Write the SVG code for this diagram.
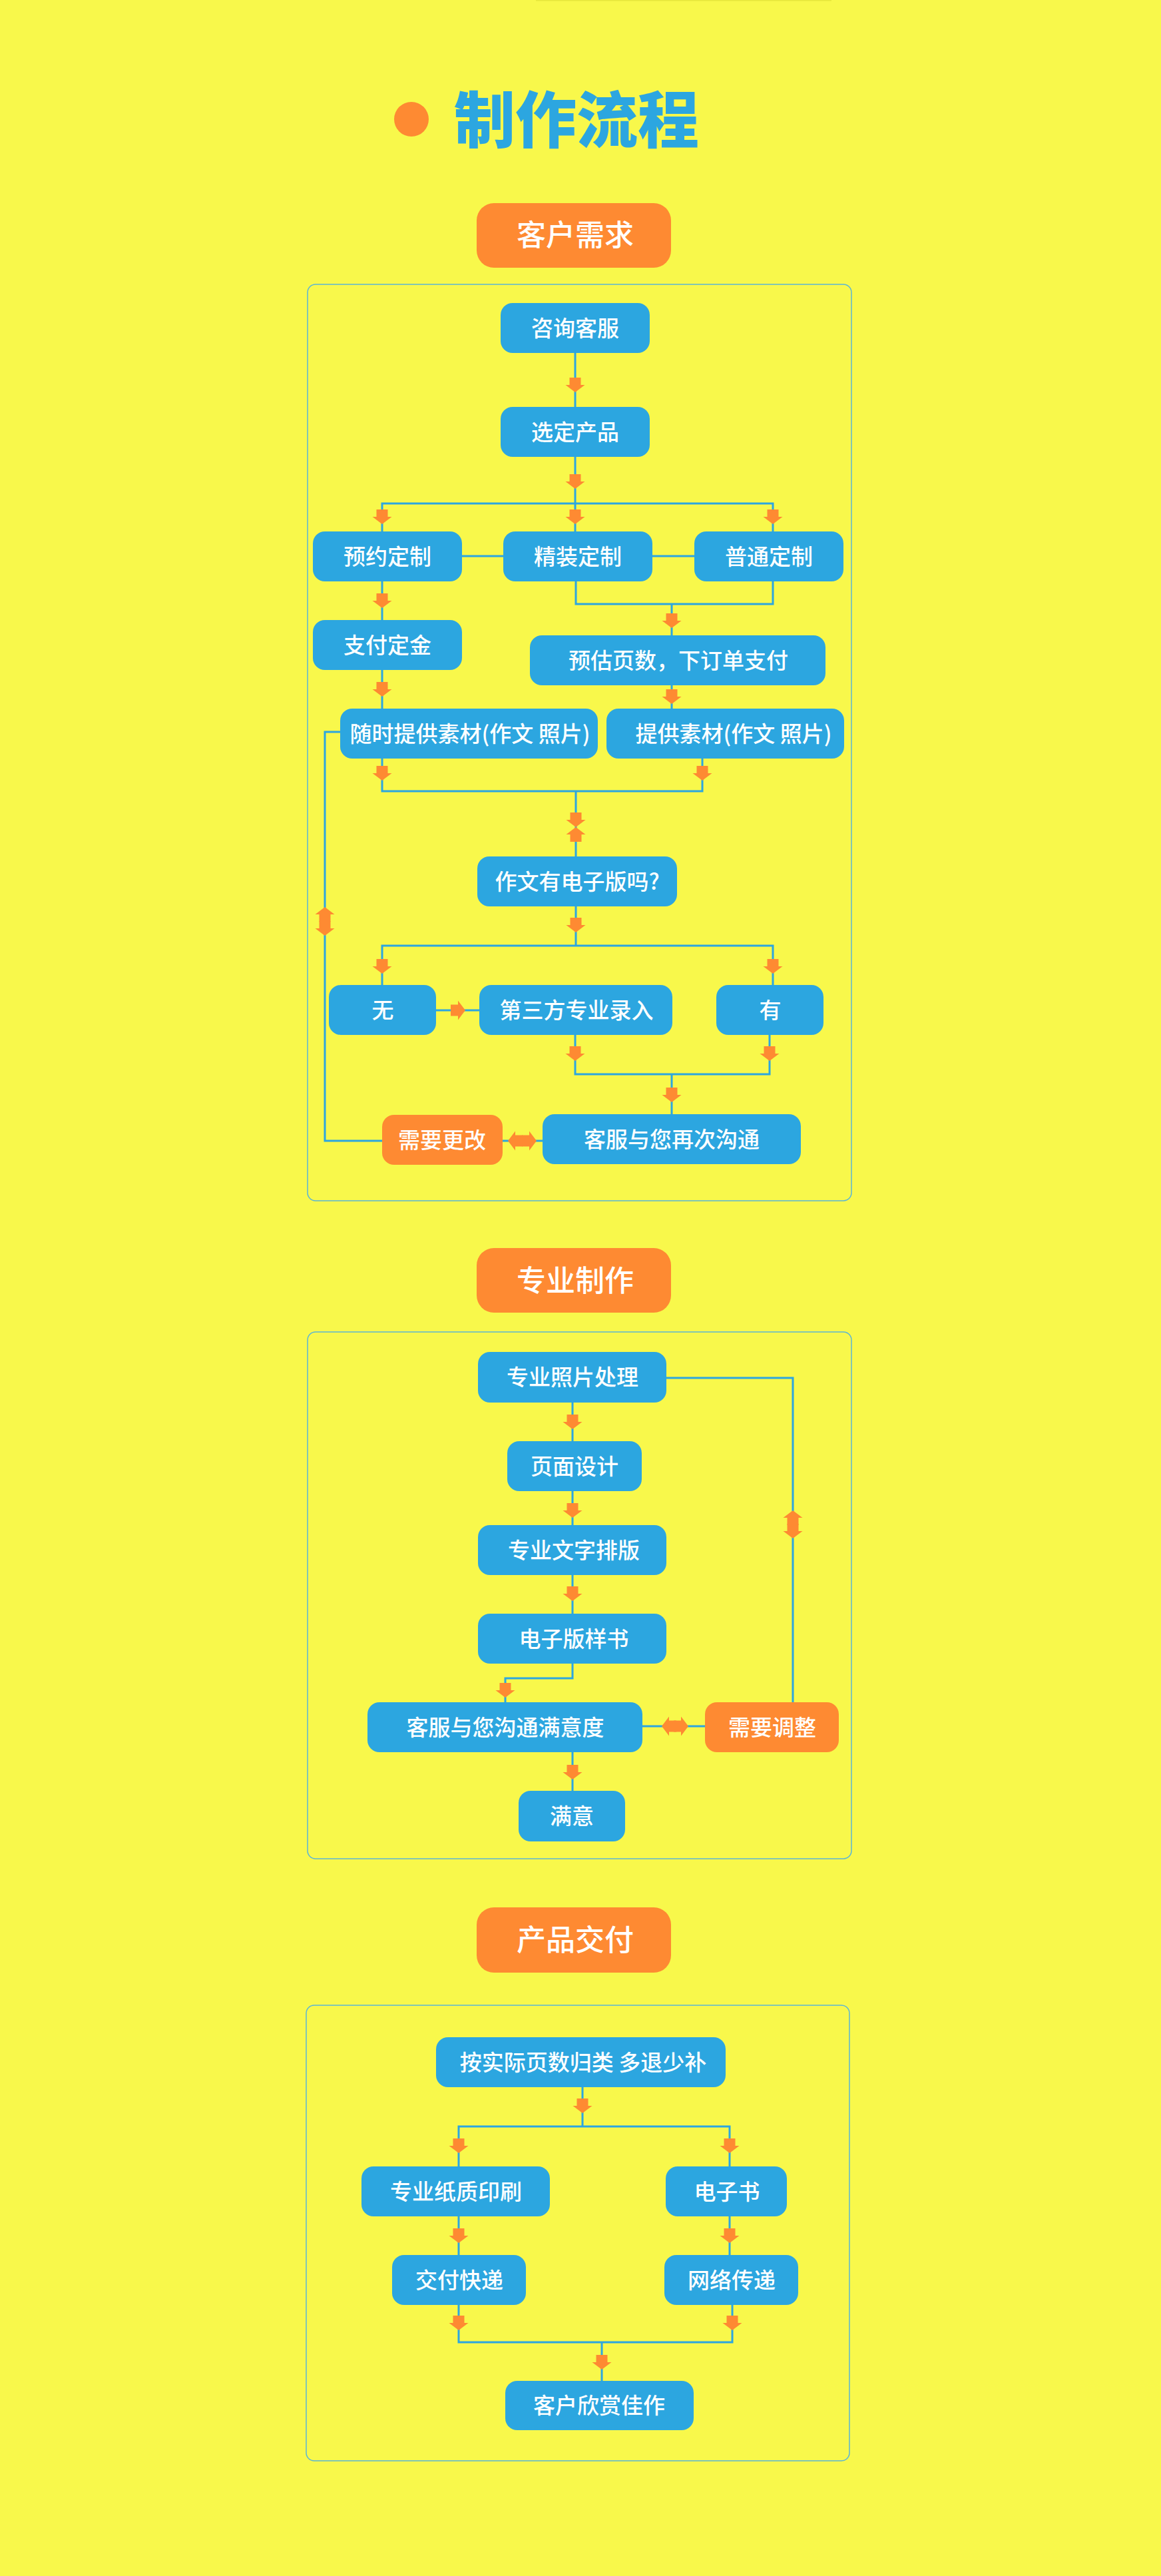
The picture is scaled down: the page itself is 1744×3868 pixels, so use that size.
<svg xmlns="http://www.w3.org/2000/svg" xmlns:xlink="http://www.w3.org/1999/xlink" width="1744" height="3868" viewBox="0 0 1744 3868">
<style>
.bg{fill:#f8f84b}
.frame{fill:none;stroke:#5bb5d5;stroke-width:1.5}
.b{fill:#2ca6e0}
.o{fill:#fe8a32}
.t{font-family:"Noto Sans CJK SC","Noto Sans",sans-serif;font-weight:500;font-size:33px;fill:#ffffff;text-anchor:middle}
.h{font-size:44px}
.title{font-family:"Noto Sans CJK SC","Noto Sans",sans-serif;font-weight:900;font-size:92px;fill:#2ca6e0;text-anchor:middle}
.ln{fill:none;stroke:#2ca6e0;stroke-width:3}
.ar{fill:#fe8a32}
</style>
<defs>
<path id="arr" class="ar" d="M-8.5,-22H8.5V-11H14.5L0,0L-14.5,-11H-8.5Z"/>
</defs>
<rect class="bg" x="0" y="0" width="1744" height="3868"/>
<rect x="805" y="0" width="444" height="1.5" fill="#e6e63c"/>

<g id="title">
<circle cx="618" cy="179" r="26" fill="#fe8a32"/>
<text class="title" x="866" y="214">制作流程</text>
</g>

<!-- Section 1 -->
<g id="sec1-header"><rect class="o" x="716" y="305" width="292" height="97" rx="26"/><text class="t h" x="864" y="369">客户需求</text></g>
<rect id="sec1-frame" class="frame" x="462" y="427" width="817" height="1376" rx="12"/>

<g id="connectors">
<path class="ln" d="M864,530V611 M864,686V756 M574,798V756H1161V798 M864,756V798 M694,835H756 M980,835H1043 M574,873V931 M865,873V907H1161V873 M1009,907V954 M574,1006V1064 M1009,1029V1064 M574,1139V1188H1055V1139 M865,1188V1286 M865,1361V1420 M574,1479V1420H1161V1479 M655,1517H720 M864,1554V1613H1156V1554 M1009,1613V1673 M755,1713H815 M574,1713H488V1099H511"/>
<path class="ln" d="M860,2106V2164 M860,2239V2290 M860,2365V2423 M860,2498V2520H759V2556 M965,2592H1059 M1001,2069H1191V2556 M860,2631V2689"/>
<path class="ln" d="M875,3134V3193 M689,3253V3193H1096V3253 M689,3328V3386 M1096,3328V3386 M689,3461V3517H1100V3461 M904,3517V3575"/>
<use href="#arr" transform="translate(864,589)"/>
<use href="#arr" transform="translate(864,734)"/>
<use href="#arr" transform="translate(574,787)"/>
<use href="#arr" transform="translate(864,787)"/>
<use href="#arr" transform="translate(1161,787)"/>
<use href="#arr" transform="translate(574,913)"/>
<use href="#arr" transform="translate(1009,943)"/>
<use href="#arr" transform="translate(574,1046)"/>
<use href="#arr" transform="translate(1009,1057)"/>
<use href="#arr" transform="translate(574,1172)"/>
<use href="#arr" transform="translate(1055,1172)"/>
<use href="#arr" transform="translate(865,1242)"/>
<use href="#arr" transform="translate(865,1242) rotate(180)"/>
<use href="#arr" transform="translate(865,1400)"/>
<use href="#arr" transform="translate(574,1462)"/>
<use href="#arr" transform="translate(1161,1462)"/>
<use href="#arr" transform="translate(699,1517) rotate(-90)"/>
<use href="#arr" transform="translate(864,1593)"/>
<use href="#arr" transform="translate(1156,1593)"/>
<use href="#arr" transform="translate(1009,1655)"/>
<use href="#arr" transform="translate(763,1713) rotate(90)"/>
<use href="#arr" transform="translate(806,1713) rotate(-90)"/>
<use href="#arr" transform="translate(488,1362) rotate(180)"/>
<use href="#arr" transform="translate(488,1405)"/>
<use href="#arr" transform="translate(860,2146)"/>
<use href="#arr" transform="translate(860,2279)"/>
<use href="#arr" transform="translate(860,2404)"/>
<use href="#arr" transform="translate(759,2549)"/>
<use href="#arr" transform="translate(994,2592) rotate(90)"/>
<use href="#arr" transform="translate(1034,2592) rotate(-90)"/>
<use href="#arr" transform="translate(1191,2268) rotate(180)"/>
<use href="#arr" transform="translate(1191,2310)"/>
<use href="#arr" transform="translate(860,2672)"/>
<use href="#arr" transform="translate(875,3173)"/>
<use href="#arr" transform="translate(689,3233)"/>
<use href="#arr" transform="translate(1096,3233)"/>
<use href="#arr" transform="translate(689,3368)"/>
<use href="#arr" transform="translate(1096,3368)"/>
<use href="#arr" transform="translate(689,3499)"/>
<use href="#arr" transform="translate(1100,3499)"/>
<use href="#arr" transform="translate(904,3558)"/>
</g>

<g id="n-zixun"><rect class="b" x="752" y="455" width="224" height="75" rx="18"/><text class="t" x="864" y="505">咨询客服</text></g>
<g id="n-xuanding"><rect class="b" x="752" y="611" width="224" height="75" rx="18"/><text class="t" x="864" y="661">选定产品</text></g>
<g id="n-yuyue"><rect class="b" x="470" y="798" width="224" height="75" rx="18"/><text class="t" x="582" y="848">预约定制</text></g>
<g id="n-jingzhuang"><rect class="b" x="756" y="798" width="224" height="75" rx="18"/><text class="t" x="868" y="848">精装定制</text></g>
<g id="n-putong"><rect class="b" x="1043" y="798" width="224" height="75" rx="18"/><text class="t" x="1155" y="848">普通定制</text></g>
<g id="n-zhifu"><rect class="b" x="470" y="931" width="224" height="75" rx="18"/><text class="t" x="582" y="981">支付定金</text></g>
<g id="n-yugu"><rect class="b" x="796" y="954" width="444" height="75" rx="18"/><text class="t" x="1019" y="1004">预估页数，下订单支付</text></g>
<g id="n-suishi"><rect class="b" x="511" y="1064" width="387" height="75" rx="18"/><text class="t" x="706" y="1114">随时提供素材(作文 照片)</text></g>
<g id="n-tigong"><rect class="b" x="911" y="1064" width="357" height="75" rx="18"/><text class="t" x="1102" y="1114">提供素材(作文 照片)</text></g>
<g id="n-zuowen"><rect class="b" x="717" y="1286" width="300" height="75" rx="18"/><text class="t" x="867" y="1336">作文有电子版吗?</text></g>
<g id="n-wu"><rect class="b" x="494" y="1479" width="161" height="75" rx="18"/><text class="t" x="575" y="1529">无</text></g>
<g id="n-disanfang"><rect class="b" x="720" y="1479" width="290" height="75" rx="18"/><text class="t" x="866" y="1529">第三方专业录入</text></g>
<g id="n-you"><rect class="b" x="1076" y="1479" width="161" height="75" rx="18"/><text class="t" x="1157" y="1529">有</text></g>
<g id="n-gengai"><rect class="o" x="574" y="1674" width="181" height="75" rx="18"/><text class="t" x="664" y="1724">需要更改</text></g>
<g id="n-zaici"><rect class="b" x="815" y="1673" width="388" height="75" rx="18"/><text class="t" x="1009" y="1723">客服与您再次沟通</text></g>

<!-- Section 2 -->
<g id="sec2-header"><rect class="o" x="716" y="1874" width="292" height="97" rx="26"/><text class="t h" x="864" y="1939">专业制作</text></g>
<rect id="sec2-frame" class="frame" x="462" y="2000" width="817" height="791" rx="12"/>
<g id="n-zhaopian"><rect class="b" x="718" y="2030" width="283" height="76" rx="18"/><text class="t" x="860" y="2080">专业照片处理</text></g>
<g id="n-yemian"><rect class="b" x="762" y="2164" width="202" height="75" rx="18"/><text class="t" x="863" y="2214">页面设计</text></g>
<g id="n-paiban"><rect class="b" x="718" y="2290" width="283" height="75" rx="18"/><text class="t" x="862" y="2340">专业文字排版</text></g>
<g id="n-yangshu"><rect class="b" x="718" y="2423" width="283" height="75" rx="18"/><text class="t" x="862" y="2473">电子版样书</text></g>
<g id="n-manyidu"><rect class="b" x="552" y="2556" width="413" height="75" rx="18"/><text class="t" x="759" y="2606">客服与您沟通满意度</text></g>
<g id="n-tiaozheng"><rect class="o" x="1059" y="2556" width="201" height="75" rx="18"/><text class="t" x="1160" y="2606">需要调整</text></g>
<g id="n-manyi"><rect class="b" x="779" y="2689" width="160" height="76" rx="18"/><text class="t" x="859" y="2739">满意</text></g>

<!-- Section 3 -->
<g id="sec3-header"><rect class="o" x="716" y="2864" width="292" height="98" rx="26"/><text class="t h" x="864" y="2929">产品交付</text></g>
<rect id="sec3-frame" class="frame" x="460" y="3011" width="816" height="684" rx="12"/>
<g id="n-anshiji"><rect class="b" x="655" y="3059" width="435" height="75" rx="18"/><text class="t" x="876" y="3109">按实际页数归类 多退少补</text></g>
<g id="n-zhizhi"><rect class="b" x="543" y="3253" width="283" height="75" rx="18"/><text class="t" x="685" y="3303">专业纸质印刷</text></g>
<g id="n-dianzishu"><rect class="b" x="1000" y="3253" width="182" height="75" rx="18"/><text class="t" x="1092" y="3303">电子书</text></g>
<g id="n-kuaidi"><rect class="b" x="589" y="3386" width="201" height="75" rx="18"/><text class="t" x="690" y="3436">交付快递</text></g>
<g id="n-wangluo"><rect class="b" x="998" y="3386" width="201" height="75" rx="18"/><text class="t" x="1099" y="3436">网络传递</text></g>
<g id="n-xinshang"><rect class="b" x="759" y="3575" width="283" height="74" rx="18"/><text class="t" x="900" y="3624">客户欣赏佳作</text></g>
</svg>
